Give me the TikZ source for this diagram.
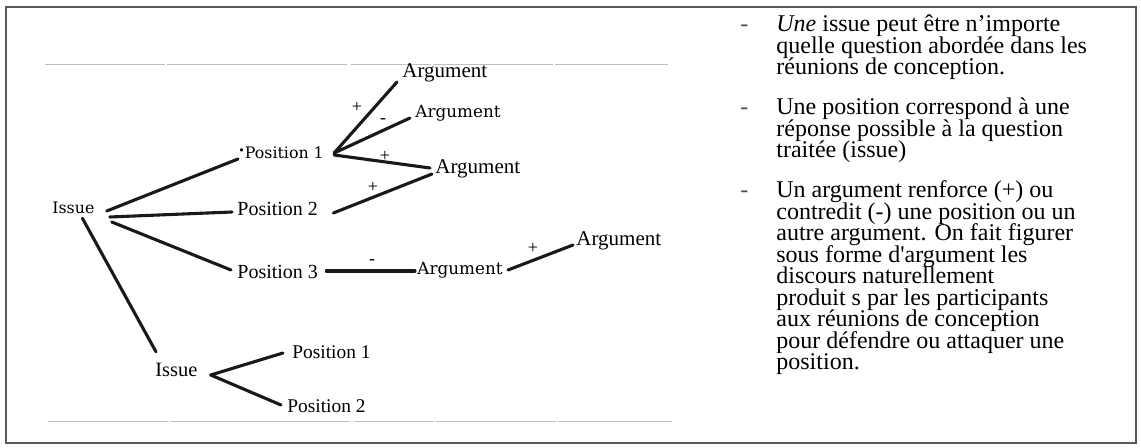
\documentclass[tikz,border=0pt]{standalone}
\usepackage{fontspec}
\setmainfont{Liberation Serif}
\newfontfamily\dvs{DejaVu Serif}
\usetikzlibrary{calc}
\begin{document}
\begin{tikzpicture}[x=0.5pt,y=-0.5pt,
  conn/.style={line width=1.55pt, draw=black!90, line cap=round},
  labT/.style={inner sep=0pt, anchor=west, font=\fontsize{10.5}{12}\selectfont},
  labP/.style={inner sep=0pt, anchor=west, font=\fontsize{10}{12}\selectfont},
  labB/.style={inner sep=0pt, anchor=west, font=\dvs\fontsize{7.9}{9}\selectfont},
  labA/.style={inner sep=0pt, anchor=west, font=\dvs\fontsize{8.4}{9}\selectfont},
  sgn/.style={inner sep=0pt, font=\fontsize{9}{9}\selectfont},
  bul/.style={inner sep=0pt, anchor=base west, text=black!70, font=\fontsize{12}{10.75}\selectfont},
  para/.style={inner sep=0pt, anchor=base west, font=\fontsize{12}{10.75}\selectfont},
  hrule/.style={draw=black!25, line width=0.5pt, dash pattern=on 60pt off 1pt on 90pt off 2pt on 40pt off 1pt}]
\useasboundingbox (0,0) rectangle (1141,448);
\draw[draw=black!65, line width=1.3pt] (6,7) rectangle (1136,443);
\draw[hrule] (45,65) -- (668,65);
\draw[hrule] (48,422) -- (672,422);

% nodes
\node[labB] (i1) at (52,208) {Issue};
\node[labB] (p1) at (238,153) {\raisebox{0.55ex}{\scalebox{0.7}{\textbullet}}Position 1};
\node[labP] (p2) at (237,209) {Position 2};
\node[labP] (p3) at (237,272) {Position 3};
\node[labT] (a1) at (402,73) {Argument};
\node[labA] (a2) at (415,113) {Argument};
\node[labT] (a3) at (435,169) {Argument};
\node[labA] (a4) at (417,270) {Argument};
\node[labT] (a5) at (576,241) {Argument};
\node[labP, font=\fontsize{10.2}{12}\selectfont] (i2) at (155,370) {Issue};
\node[labP, font=\fontsize{9.7}{12}\selectfont] (q1) at (292,352) {Position 1};
\node[labP, font=\fontsize{9.7}{12}\selectfont] (q2) at (287,406) {Position 2};

% connectors
\draw[conn] ($(i1.east)+(12,3)$) -- ($(p1.west)+(0,6)$);
\draw[conn] ($(i1.east)+(15,9)$) -- ($(p2.west)+(-5,3)$);
\draw[conn] ($(i1.east)+(17,14)$) -- ($(p3.west)+(-6,-2)$);
\draw[conn] ($(i1.south)+(9,4)$) -- ($(i2.north west)+(1,-11)$);
\draw[conn] ($(p1.east)+(10,0)$) -- ($(a1.west)+(-5,9)$);
\draw[conn] ($(p1.east)+(10,0)$) -- ($(a2.west)+(-5,5)$);
\draw[conn] ($(p1.east)+(10,2)$) -- ($(a3.west)+(-5,-1)$);
\draw[conn] ($(p2.east)+(15,4)$) -- ($(a3.west)+(-3,5)$);
\draw[conn] ($(p3.east)+(8,-1)$) -- ($(a4.west)+(-2,1)$);
\draw[conn] ($(a4.east)+(5,0)$) -- ($(a5.west)+(-3,4)$);
\draw[conn] ($(i2.east)+(13,5)$) -- ($(q1.west)+(-9,1)$);
\draw[conn] ($(i2.east)+(13,5)$) -- ($(q2.west)+(-6,-1)$);

% signs
\node[sgn] (s1) at (357,107) {+};
\node[sgn] (s2) at (383,121) {-};
\node[sgn] (s3) at (385,156) {+};
\node[sgn] (s4) at (373,187) {+};
\node[sgn] (s5) at (372,262) {-};
\node[sgn] (s6) at (533,248) {+};

% right text
\node[bul] (b1) at (740,32) {-};
\node[bul] (b2) at (740,115) {-};
\node[bul] (b3) at (740,198) {-};
\node[para] (t1) at (776,32) {\parbox[t]{200pt}{\lineskiplimit=-20pt\raggedright
\textit{Une} issue peut être n’importe\\
quelle question abordée dans les\\
réunions de conception.}};
\node[para] (t2) at (776,115) {\parbox[t]{200pt}{\lineskiplimit=-20pt\raggedright
Une position correspond à une\\
réponse possible à la question\\
traitée (issue)}};
\node[para] (t3) at (776,198) {\parbox[t]{200pt}{\lineskiplimit=-20pt\raggedright
Un argument renforce (+) ou\\
contredit (-) une position ou un\\
autre argument. On fait figurer\\
sous forme d\textquotesingle argument les\\
discours naturellement\\
produit s par les participants\\
aux réunions de conception\\
pour défendre ou attaquer une\\
position.}};
\end{tikzpicture}
\end{document}
